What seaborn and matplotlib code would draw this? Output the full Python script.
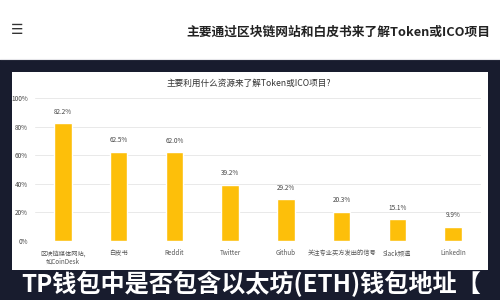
import matplotlib
matplotlib.use("Agg")
import matplotlib.pyplot as plt
from matplotlib.patches import Rectangle
from matplotlib.lines import Line2D
import seaborn as sns
import pandas as pd

categories = ["区块链媒体网站,\n如CoinDesk", "白皮书", "Reddit", "Twitter", "Github",
              "关注专业买方发出的信号", "Slack频道", "LinkedIn"]
values = [82.2, 62.5, 62.0, 39.2, 29.2, 20.3, 15.1, 9.9]
y_ticks = [0, 20, 40, 60, 80, 100]
y_tick_labels = ["0%", "20%", "40%", "60%", "80%", "100%"]
page_title = "主要通过区块链网站和白皮书来了解Token或ICO项目"
chart_title = "主要利用什么资源来了解Token或ICO项目?"
banner_text = "TP钱包中是否包含以太坊(ETH)钱包地址【"

sns.set_theme(style="white")
plt.rcParams['font.family'] = ['Noto Sans CJK SC', 'DejaVu Sans']

W, H = 500, 300
fig = plt.figure(figsize=(5, 3), dpi=100)
fig.patch.set_facecolor("white")

def fx(px): return px / W
def fy(py): return 1 - py / H

navy = "#181c2e"
# navy background below top band
fig.patches.append(Rectangle((0, 0), 1, fy(60), transform=fig.transFigure,
                             facecolor=navy, edgecolor="none", zorder=-3))
fig.lines.append(Line2D([0, 1], [fy(59), fy(59)], transform=fig.transFigure,
                        color="#e6e6ea", lw=0.8, zorder=-2))
# white panel
fig.patches.append(Rectangle((fx(12), fy(270)), fx(476), 198 / H, transform=fig.transFigure,
                             facecolor="white", edgecolor="none", zorder=-1))

# top band texts
fig.text(fx(17), fy(30), "☰", family="DejaVu Sans", fontsize=10, color="#333333",
         ha="center", va="center")
fig.text(fx(490), fy(32), page_title, fontsize=9.2, fontweight="bold", color="#222222",
         ha="right", va="center")

# chart title
fig.text(fx(249), fy(83), chart_title, fontsize=6.2, color="#333333", ha="center", va="center")

# axes
ax = fig.add_axes([fx(35), fy(241), 446 / W, 143 / H])
ax.set_zorder(2)
ax.set_facecolor("none")
df = pd.DataFrame({"cat": categories, "val": values})
sns.barplot(data=df, x="cat", y="val", color="#FDBF0A", width=0.31, ax=ax,
            saturation=1, zorder=3)
ax.set_xlim(-0.5, len(categories) - 0.5)
ax.set_ylim(0, 100)
ax.set_yticks(y_ticks)
ax.set_yticklabels(y_tick_labels)
ax.grid(axis="y", color="#e9e9e9", lw=0.7, zorder=0)
ax.set_axisbelow(True)
for s in ax.spines.values():
    s.set_visible(False)
ax.set_xlabel("")
ax.set_ylabel("")
ax.tick_params(axis="y", length=0, pad=5, labelsize=4.6, labelcolor="#444444")
ax.tick_params(axis="x", length=0, pad=6, labelsize=4.5, labelcolor="#555555")
for lab in ax.get_xticklabels():
    lab.set_linespacing(1.1)

for i, v in enumerate(values):
    ax.annotate(f"{v:.1f}%", (i, v), xytext=(0, 5.5), textcoords="offset points",
                ha="center", va="bottom", fontsize=4.6, color="#444444")

# bottom banner text
fig.text(fx(251), fy(284), banner_text, fontsize=17.4, fontweight="bold", color="white",
         ha="center", va="center", zorder=5)

fig.savefig("out.png", dpi=100, facecolor=fig.get_facecolor())
